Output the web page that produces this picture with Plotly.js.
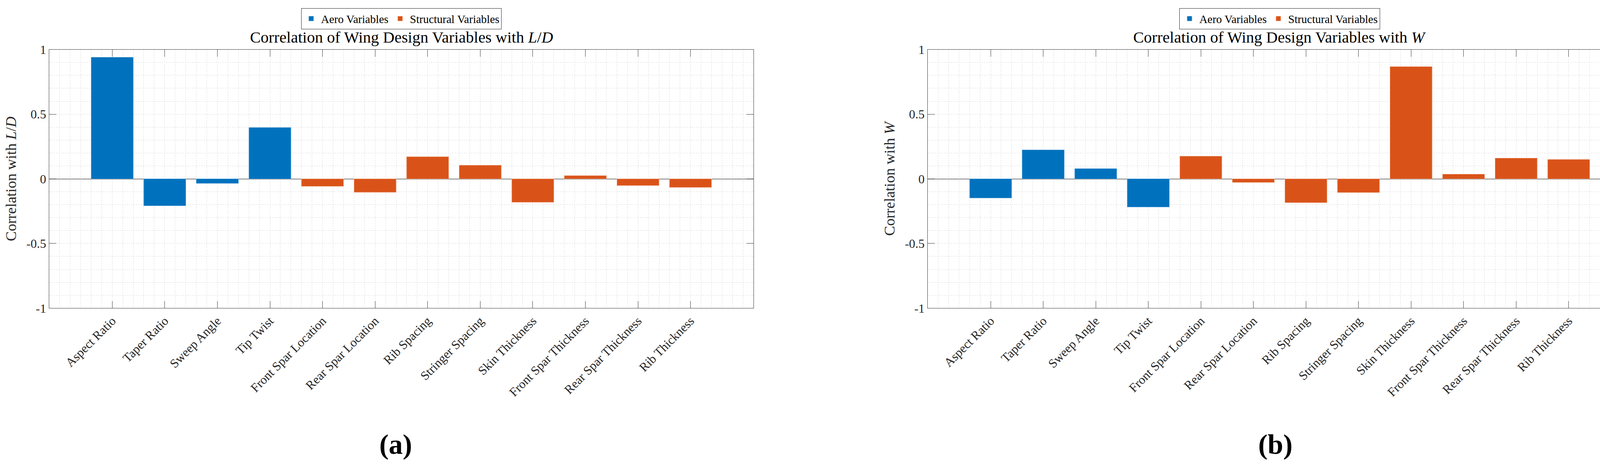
<!DOCTYPE html>
<html>
<head>
<meta charset="utf-8">
<script src="https://cdn.plot.ly/plotly-3.0.1.min.js"></script>
<style>
  html, body { margin: 0; padding: 0; background: #fff; }
  #chart { width: 4196px; height: 1187px; }
</style>
</head>
<body>
<div id="chart"></div>
<script>
  // Data.
  const categories = [
    "Aspect Ratio", "Taper Ratio", "Sweep Angle", "Tip Twist",
    "Front Spar Location", "Rear Spar Location", "Rib Spacing", "Stringer Spacing",
    "Skin Thickness", "Front Spar Thickness", "Rear Spar Thickness", "Rib Thickness",
  ];
  const groupNames = ["Aero Variables", "Structural Variables"];
  const groupOf = [0, 0, 0, 0, 1, 1, 1, 1, 1, 1, 1, 1];

  const corrLD = [0.94, -0.208, -0.035, 0.397, -0.058, -0.104, 0.171, 0.105, -0.181, 0.025, -0.052, -0.066];
  const corrW = [-0.148, 0.224, 0.079, -0.218, 0.175, -0.028, -0.184, -0.106, 0.868, 0.036, 0.160, 0.150];

  const yTickVals = [-1, -0.5, 0, 0.5, 1];
  const yTickText = ["-1", "-0.5", "0", "0.5", "1"];

  const FONT = "Liberation Serif, Times New Roman, serif";
  const COLORS = ["#0072BD", "#D95319"];
  const EDGES = ["#5aa3dc", "#f0a27e"];
  const W = 4196, H = 1187;

  const xPos = categories.map((_, i) => i + 1);

  // One bar trace per group, per panel.
  function panelTraces(values, xa, ya, legend) {
    return groupNames.map((name, g) => {
      const idx = xPos.map((_, i) => i).filter((i) => groupOf[i] === g);
      return {
        type: "bar",
        name,
        x: idx.map((i) => xPos[i]),
        y: idx.map((i) => values[i]),
        width: 0.8,
        xaxis: xa,
        yaxis: ya,
        legend,
        marker: { color: COLORS[g], line: { color: EDGES[g], width: 1 } },
        hovertemplate: "%{y}<extra>" + name + "</extra>",
      };
    });
  }

  const px = (v) => v / W;          // horizontal pixel -> paper
  const py = (v) => 1 - v / H;      // vertical pixel (from top) -> paper

  const GRID = "#d6d6d6";
  const AXIS = "#3a3a3a";

  function xAxis(domain, anchor) {
    return {
      domain,
      anchor,
      range: [-0.2, 13.2],
      tickmode: "array",
      tickvals: xPos,
      ticktext: categories,
      tickangle: -45,
      tickfont: { family: FONT, size: 32, color: "#262626" },
      ticks: "inside",
      ticklen: 18,
      tickcolor: AXIS,
      showline: true,
      linecolor: AXIS,
      linewidth: 1.2,
      mirror: "ticks",
      showgrid: true,
      gridcolor: GRID,
      griddash: "dot",
      gridwidth: 1,
      minor: { dtick: 0.2, tick0: 0, showgrid: true, gridcolor: GRID, griddash: "dot", gridwidth: 1 },
      zeroline: false,
      fixedrange: true,
    };
  }

  function yAxis(domain, anchor, title) {
    return {
      domain,
      anchor,
      range: [-1, 1],
      tickmode: "array",
      tickvals: yTickVals,
      ticktext: yTickText,
      tickfont: { family: FONT, size: 32, color: "#262626" },
      ticks: "inside",
      ticklen: 18,
      tickcolor: AXIS,
      showline: true,
      linecolor: AXIS,
      linewidth: 1.2,
      mirror: "ticks",
      showgrid: true,
      gridcolor: GRID,
      griddash: "dot",
      gridwidth: 1,
      minor: { dtick: 0.1, tick0: 0, showgrid: true, gridcolor: GRID, griddash: "dot", gridwidth: 1 },
      zeroline: true,
      zerolinecolor: "#808080",
      zerolinewidth: 2,
      title: { text: title, font: { family: FONT, size: 38, color: "#262626" }, standoff: 14 },
      fixedrange: true,
    };
  }

  const xDomA = [px(125.7), px(1929.3)];
  const xDomB = [px(2374.6), px(4177.3)];
  const yDom = [py(788.3), py(126.7)];
  const mid = (d) => (d[0] + d[1]) / 2;

  function legendBox(xCenter) {
    return {
      x: xCenter,
      xanchor: "center",
      y: py(21),
      yanchor: "top",
      orientation: "h",
      bgcolor: "#fff",
      bordercolor: "#262626",
      borderwidth: 1.2,
      font: { family: FONT, size: 29, color: "#000" },
      itemwidth: 40,
      tracegroupgap: 0,
    };
  }

  const titleFont = { family: FONT, size: 41, color: "#000" };
  const subFont = { family: "Liberation Serif, serif", size: 72, color: "#000" };

  const layout = {
    width: W,
    height: H,
    margin: { l: 0, r: 0, t: 0, b: 0 },
    paper_bgcolor: "#fff",
    plot_bgcolor: "#fff",
    font: { family: FONT, color: "#000" },
    barmode: "overlay",
    xaxis: xAxis(xDomA, "y"),
    yaxis: yAxis(yDom, "x", "Correlation with <i>L</i>/<i>D</i>"),
    xaxis2: xAxis(xDomB, "y2"),
    yaxis2: yAxis(yDom, "x2", "Correlation with <i>W</i>"),
    legend: legendBox(mid(xDomA)),
    legend2: legendBox(mid(xDomB)),
    annotations: [
      {
        text: "Correlation of Wing Design Variables with <i>L</i>/<i>D</i>",
        xref: "paper", yref: "paper", x: mid(xDomA), y: py(95),
        xanchor: "center", yanchor: "middle", showarrow: false, font: titleFont,
      },
      {
        text: "Correlation of Wing Design Variables with <i>W</i>",
        xref: "paper", yref: "paper", x: mid(xDomB), y: py(95),
        xanchor: "center", yanchor: "middle", showarrow: false, font: titleFont,
      },
      {
        text: "<b>(a)</b>", xref: "paper", yref: "paper", x: px(1013), y: py(1137),
        xanchor: "center", yanchor: "middle", showarrow: false, font: subFont,
      },
      {
        text: "<b>(b)</b>", xref: "paper", yref: "paper", x: px(3265), y: py(1137),
        xanchor: "center", yanchor: "middle", showarrow: false, font: subFont,
      },
    ],
  };

  const traces = [
    ...panelTraces(corrLD, "x", "y", "legend"),
    ...panelTraces(corrW, "x2", "y2", "legend2"),
  ];

  Plotly.newPlot("chart", traces, layout, { displayModeBar: false, responsive: false });
</script>
</body>
</html>
